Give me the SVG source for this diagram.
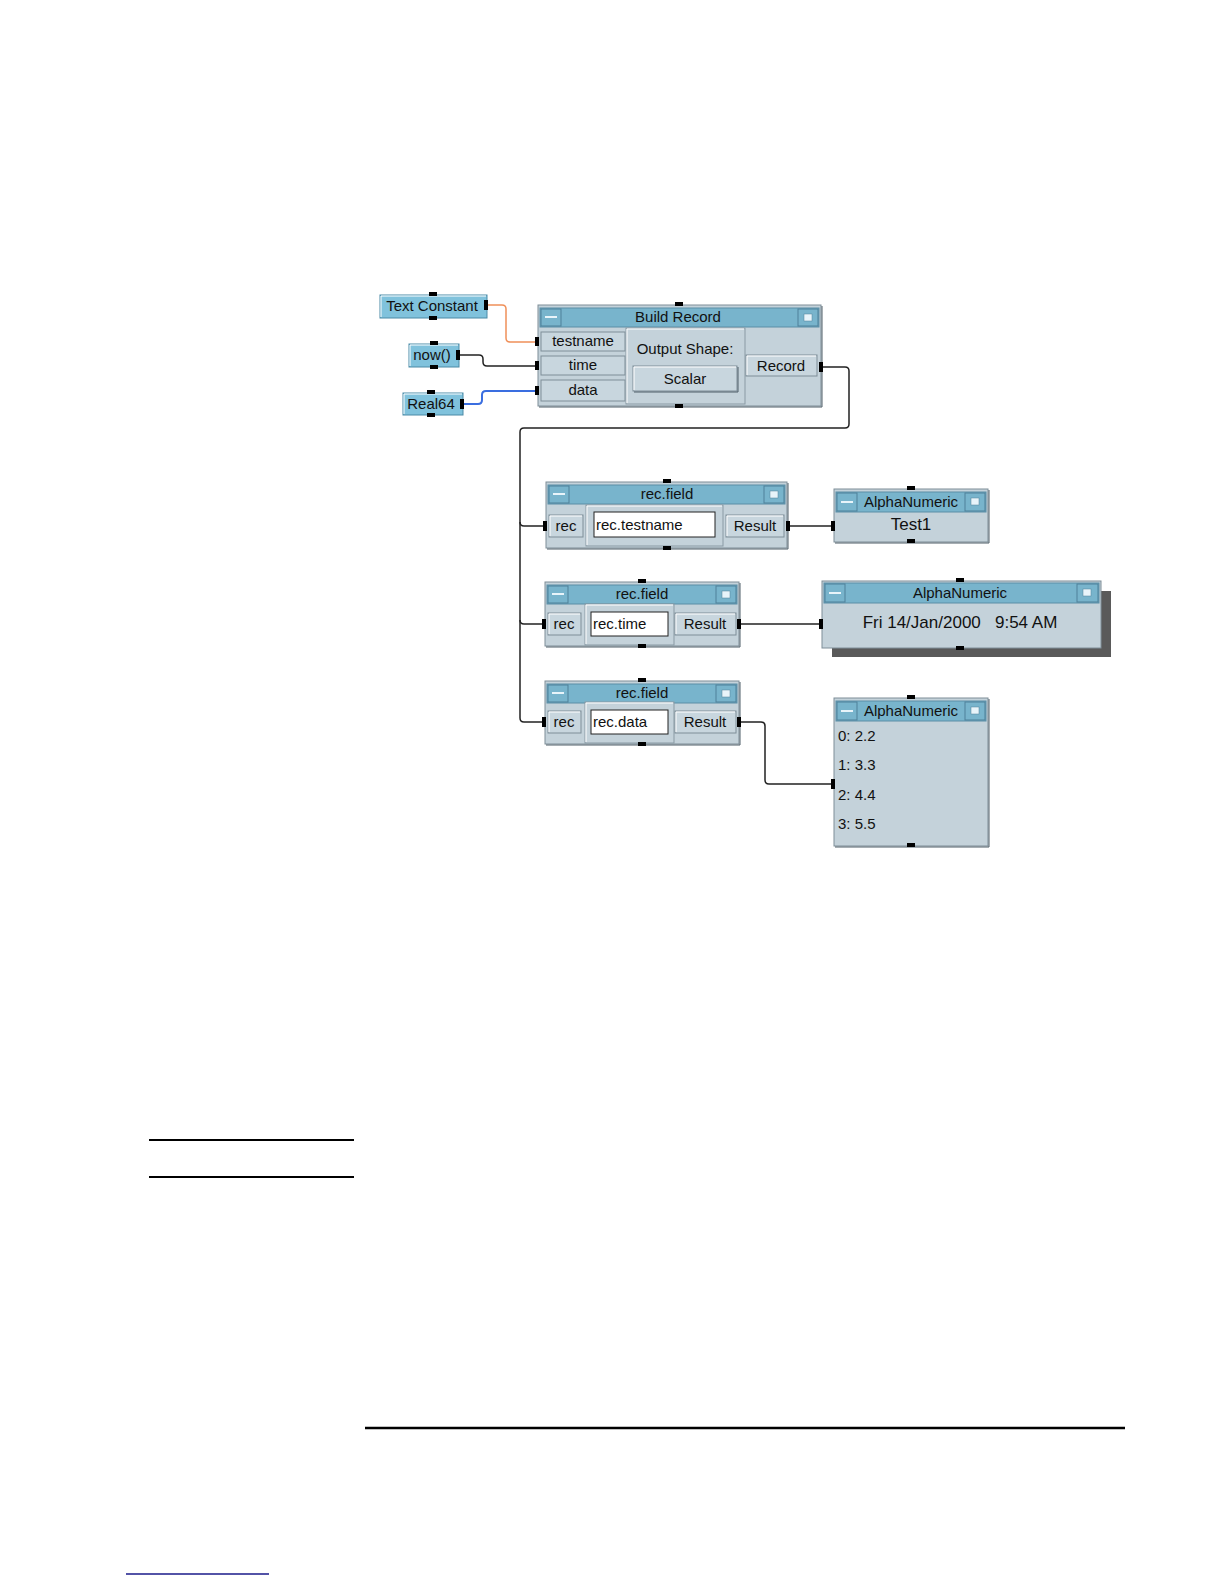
<svg xmlns="http://www.w3.org/2000/svg" width="1224" height="1584" viewBox="0 0 1224 1584">
<style>
.t{font-family:"Liberation Sans",Arial,sans-serif;font-size:15px;fill:#111}
.c{text-anchor:middle}
.big{font-size:17px}
.pre{white-space:pre}
.frame{fill:#c4d2da;stroke:#7e8e98;stroke-width:1}
.title{fill:#78b4cc;stroke:#5a8ea6;stroke-width:1}
.tbtn{fill:#78b4cc;stroke:#4f8099;stroke-width:1}
.btn{fill:#c8d6de;stroke:#7e8e98;stroke-width:1}
.panel{fill:#c4d2da;stroke:#8a9aa4;stroke-width:1}
.hl{fill:none;stroke:#ffffff;stroke-width:1}
.sh{fill:none;stroke:#4f5f68;stroke-width:1}
.pin{fill:#000}
.const{fill:#80c2dc;stroke:#4a8aa6;stroke-width:1}
.field{fill:#fff;stroke:#222;stroke-width:1}
.dash{stroke:#e8f4fa;stroke-width:2}
.ico{fill:#e8f4fa;stroke:#4f8099;stroke-width:0.5}
.wire{fill:none;stroke:#222;stroke-width:1.5}
.rule{stroke:#000;stroke-width:2}
</style>

<g id="connectors">
  <path class="wire" d="M487,305 H502 Q506,305 506,309 V338 Q506,342 510,342 H536" style="stroke:#f0905a"/>
  <path class="wire" d="M459,355 H479 Q483,355 483,359 V362 Q483,366 487,366 H536"/>
  <path class="wire" d="M463,404 H478 Q482,404 482,400 V395 Q482,391 486,391 H536" style="stroke:#3a6ee0;stroke-width:2"/>
  <path class="wire" d="M823,367 H845 Q849,367 849,371 V424 Q849,428 845,428 H524 Q520,428 520,432 V718 Q520,722 524,722 H543"/>
  <path class="wire" d="M520,522 Q520,526 524,526 H546"/>
  <path class="wire" d="M520,620 Q520,624 524,624 H543"/>
  <path class="wire" d="M787,526 H834"/>
  <path class="wire" d="M739,624 H821"/>
  <path class="wire" d="M739,722 H761 Q765,722 765,726 V780 Q765,784 769,784 H834"/>
</g>

<g id="text-constant">
  <rect class="const" x="380" y="295" width="107" height="23"/>
  <path class="hl" d="M381,317 V296 H486"/>
  <text class="t c" x="432" y="311">Text Constant</text>
  <rect class="pin" x="429" y="292" width="8" height="4"/>
  <rect class="pin" x="429" y="316" width="8" height="4"/>
  <rect class="pin" x="484" y="300" width="4" height="10"/>
</g>

<g id="now">
  <rect class="const" x="409" y="344" width="50" height="23"/>
  <path class="hl" d="M410,366 V345 H458"/>
  <text class="t c" x="432" y="360">now()</text>
  <rect class="pin" x="430" y="341" width="8" height="4"/>
  <rect class="pin" x="430" y="365" width="8" height="4"/>
  <rect class="pin" x="456" y="350" width="4" height="10"/>
</g>

<g id="real64">
  <rect class="const" x="403" y="393" width="60" height="22"/>
  <path class="hl" d="M404,414 V394 H462"/>
  <text class="t c" x="431" y="409">Real64</text>
  <rect class="pin" x="427" y="390" width="8" height="4"/>
  <rect class="pin" x="427" y="413" width="8" height="4"/>
  <rect class="pin" x="460" y="399" width="4" height="10"/>
</g>

<g id="build-record">
  <rect class="frame" x="538" y="305" width="283" height="101"/>
  <path class="sh" d="M539,407 H822 V306"/>
  <rect class="title" x="540" y="308" width="279" height="19"/>
  <rect class="tbtn" x="541" y="309" width="20" height="17"/>
  <line class="dash" x1="545" y1="317" x2="557" y2="317"/>
  <rect class="tbtn" x="798" y="309" width="20" height="17"/>
  <rect class="ico" x="804" y="314" width="8" height="7"/>
  <text class="t c" x="678" y="322">Build Record</text>
  <rect class="btn" x="541" y="332" width="84" height="19"/>
  <rect class="btn" x="541" y="356" width="84" height="19"/>
  <rect class="btn" x="541" y="380" width="84" height="21"/>
  <text class="t c" x="583" y="346">testname</text>
  <text class="t c" x="583" y="370">time</text>
  <text class="t c" x="583" y="395">data</text>
  <rect class="panel" x="626" y="328" width="119" height="76"/>
  <path class="hl" d="M627,403 V329 H744"/>
  <text class="t c" x="685" y="354">Output Shape:</text>
  <rect class="btn" x="633" y="366" width="104" height="25"/>
  <path class="hl" d="M634,390 V367 H736"/>
  <path class="sh" d="M634,392 H738 V367"/>
  <text class="t c" x="685" y="384">Scalar</text>
  <rect class="btn" x="746" y="355" width="71" height="21"/>
  <path class="hl" d="M747,375 V356 H816"/>
  <text class="t c" x="781" y="371">Record</text>
  <rect class="pin" x="535" y="337" width="4" height="9"/>
  <rect class="pin" x="535" y="361" width="4" height="9"/>
  <rect class="pin" x="535" y="386" width="4" height="9"/>
  <rect class="pin" x="819" y="362" width="4" height="10"/>
  <rect class="pin" x="675" y="302" width="8" height="4"/>
  <rect class="pin" x="675" y="404" width="8" height="4"/>
</g>

<g id="rec-field-1">
  <rect class="frame" x="546" y="482" width="241" height="66"/>
  <path class="sh" d="M547,549 H788 V483"/>
  <rect class="title" x="548" y="485" width="237" height="19"/>
  <rect class="tbtn" x="549" y="486" width="20" height="17"/>
  <line class="dash" x1="553" y1="494" x2="565" y2="494"/>
  <rect class="tbtn" x="764" y="486" width="20" height="17"/>
  <rect class="ico" x="770" y="491" width="8" height="7"/>
  <text class="t c" x="667" y="499">rec.field</text>
  <rect class="btn" x="549" y="515" width="34" height="22"/>
  <path class="hl" d="M550,536 V516 H582"/>
  <text class="t c" x="566" y="531">rec</text>
  <rect class="panel" x="586" y="505" width="137" height="41"/>
  <path class="hl" d="M587,545 V506 H722"/>
  <rect class="field" x="594" y="512" width="121" height="25"/>
  <text class="t" x="596" y="530">rec.testname</text>
  <rect class="btn" x="726" y="515" width="58" height="22"/>
  <path class="hl" d="M727,536 V516 H783"/>
  <text class="t c" x="755" y="531">Result</text>
  <rect class="pin" x="543" y="521" width="4" height="10"/>
  <rect class="pin" x="786" y="521" width="4" height="10"/>
  <rect class="pin" x="663" y="479" width="8" height="4"/>
  <rect class="pin" x="663" y="546" width="8" height="4"/>
</g>

<g id="alphanumeric-1">
  <rect class="frame" x="834" y="489" width="154" height="53"/>
  <path class="sh" d="M835,543 H989 V490"/>
  <rect class="title" x="836" y="492" width="150" height="20"/>
  <rect class="tbtn" x="837" y="493" width="20" height="18"/>
  <line class="dash" x1="841" y1="502" x2="853" y2="502"/>
  <rect class="tbtn" x="965" y="493" width="20" height="18"/>
  <rect class="ico" x="971" y="498" width="8" height="7"/>
  <text class="t c" x="911" y="507">AlphaNumeric</text>
  <text class="t c big" x="911" y="530">Test1</text>
  <rect class="pin" x="831" y="521" width="4" height="10"/>
  <rect class="pin" x="907" y="486" width="8" height="4"/>
  <rect class="pin" x="907" y="539" width="8" height="4"/>
</g>

<g id="rec-field-2">
  <rect class="frame" x="545" y="582" width="194" height="64"/>
  <path class="sh" d="M546,647 H740 V583"/>
  <rect class="title" x="547" y="585" width="190" height="19"/>
  <rect class="tbtn" x="548" y="586" width="20" height="17"/>
  <line class="dash" x1="552" y1="594" x2="564" y2="594"/>
  <rect class="tbtn" x="716" y="586" width="20" height="17"/>
  <rect class="ico" x="722" y="591" width="8" height="7"/>
  <text class="t c" x="642" y="599">rec.field</text>
  <rect class="btn" x="548" y="613" width="33" height="22"/>
  <path class="hl" d="M549,634 V614 H580"/>
  <text class="t c" x="564" y="629">rec</text>
  <rect class="panel" x="585" y="604" width="89" height="41"/>
  <path class="hl" d="M586,644 V605 H673"/>
  <rect class="field" x="591" y="612" width="77" height="24"/>
  <text class="t" x="593" y="629">rec.time</text>
  <rect class="btn" x="675" y="613" width="61" height="22"/>
  <path class="hl" d="M676,634 V614 H735"/>
  <text class="t c" x="705" y="629">Result</text>
  <rect class="pin" x="542" y="619" width="4" height="10"/>
  <rect class="pin" x="737" y="619" width="4" height="10"/>
  <rect class="pin" x="638" y="579" width="8" height="4"/>
  <rect class="pin" x="638" y="644" width="8" height="4"/>
</g>

<g id="alphanumeric-2">
  <rect x="832" y="591" width="279" height="66" fill="#5a5a5a"/>
  <rect class="frame" x="822" y="581" width="279" height="67"/>
  <rect class="title" x="824" y="583" width="275" height="20"/>
  <rect class="tbtn" x="825" y="584" width="20" height="18"/>
  <line class="dash" x1="829" y1="593" x2="841" y2="593"/>
  <rect class="tbtn" x="1077" y="584" width="21" height="18"/>
  <rect class="ico" x="1083" y="589" width="8" height="7"/>
  <text class="t c" x="960" y="598">AlphaNumeric</text>
  <text class="t c big pre" x="960" y="628">Fri 14/Jan/2000   9:54 AM</text>
  <rect class="pin" x="819" y="619" width="4" height="10"/>
  <rect class="pin" x="956" y="578" width="8" height="4"/>
  <rect class="pin" x="956" y="646" width="8" height="4"/>
</g>

<g id="rec-field-3">
  <rect class="frame" x="545" y="681" width="194" height="63"/>
  <path class="sh" d="M546,745 H740 V682"/>
  <rect class="title" x="547" y="684" width="190" height="19"/>
  <rect class="tbtn" x="548" y="685" width="20" height="17"/>
  <line class="dash" x1="552" y1="693" x2="564" y2="693"/>
  <rect class="tbtn" x="716" y="685" width="20" height="17"/>
  <rect class="ico" x="722" y="690" width="8" height="7"/>
  <text class="t c" x="642" y="698">rec.field</text>
  <rect class="btn" x="548" y="711" width="33" height="22"/>
  <path class="hl" d="M549,732 V712 H580"/>
  <text class="t c" x="564" y="727">rec</text>
  <rect class="panel" x="585" y="702" width="89" height="41"/>
  <path class="hl" d="M586,742 V703 H673"/>
  <rect class="field" x="591" y="710" width="77" height="24"/>
  <text class="t" x="593" y="727">rec.data</text>
  <rect class="btn" x="675" y="711" width="61" height="22"/>
  <path class="hl" d="M676,732 V712 H735"/>
  <text class="t c" x="705" y="727">Result</text>
  <rect class="pin" x="542" y="717" width="4" height="10"/>
  <rect class="pin" x="737" y="717" width="4" height="10"/>
  <rect class="pin" x="638" y="678" width="8" height="4"/>
  <rect class="pin" x="638" y="742" width="8" height="4"/>
</g>

<g id="alphanumeric-3">
  <rect class="frame" x="834" y="698" width="154" height="148"/>
  <path class="sh" d="M835,847 H989 V699"/>
  <rect class="title" x="836" y="701" width="150" height="20"/>
  <rect class="tbtn" x="837" y="702" width="20" height="18"/>
  <line class="dash" x1="841" y1="711" x2="853" y2="711"/>
  <rect class="tbtn" x="965" y="702" width="20" height="18"/>
  <rect class="ico" x="971" y="707" width="8" height="7"/>
  <text class="t c" x="911" y="716">AlphaNumeric</text>
  <text class="t" x="838" y="741">0: 2.2</text>
  <text class="t" x="838" y="770">1: 3.3</text>
  <text class="t" x="838" y="800">2: 4.4</text>
  <text class="t" x="838" y="829">3: 5.5</text>
  <rect class="pin" x="831" y="779" width="4" height="10"/>
  <rect class="pin" x="907" y="695" width="8" height="4"/>
  <rect class="pin" x="907" y="843" width="8" height="4"/>
</g>

<g id="page-rules">
  <line class="rule" x1="149" y1="1140" x2="354" y2="1140"/>
  <line class="rule" x1="149" y1="1177" x2="354" y2="1177"/>
  <line class="rule" x1="365" y1="1428" x2="1125" y2="1428" style="stroke-width:2.5"/>
  <line x1="126" y1="1574" x2="269" y2="1574" stroke="#1a1a8a" stroke-width="1.5"/>
</g>
</svg>
